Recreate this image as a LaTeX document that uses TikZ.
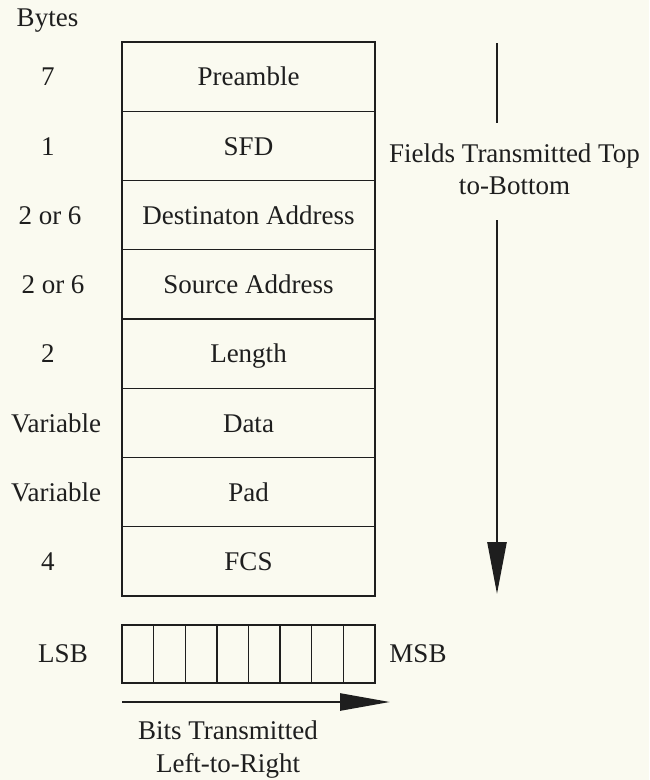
\documentclass[tikz,border=0pt]{standalone}
\usepackage{fontspec}
\setmainfont{Liberation Serif}
\usetikzlibrary{arrows.meta}
\definecolor{paper}{HTML}{FAFAF0}
\definecolor{ink}{HTML}{1E1E1E}
\begin{document}
\begin{tikzpicture}[x=1pt,y=-1pt,
  txt/.style={inner sep=0pt,text=ink,font=\fontsize{27}{32}\selectfont},
  lbl/.style={txt,text height=18.5pt,text depth=0pt},
  field/.style={draw=ink,line width=1.3pt,minimum width=253pt,minimum height=69.25pt,
    inner sep=0pt,outer sep=0pt,text=ink,text height=18.5pt,text depth=0pt,
    font=\fontsize{27}{31}\selectfont},
  bitcell/.style={draw=ink,line width=1.3pt,minimum width=31.625pt,minimum height=58pt,
    inner sep=0pt,outer sep=0pt},
  flow/.style={draw=ink,line width=2.6pt}]
\fill[paper] (0,0) rectangle (649,780);
\useasboundingbox (0,0) rectangle (649,780);

% frame fields, top to bottom
\node[field] (f1) at (248.5,76.6) {Preamble};
\node[field,anchor=north] (f2) at (f1.south) {SFD};
\node[field,anchor=north] (f3) at (f2.south) {Destinaton Address};
\node[field,anchor=north] (f4) at (f3.south) {Source Address};
\node[field,anchor=north] (f5) at (f4.south) {Length};
\node[field,anchor=north] (f6) at (f5.south) {Data};
\node[field,anchor=north] (f7) at (f6.south) {Pad};
\node[field,anchor=north] (f8) at (f7.south) {FCS};

% byte counts
\node[lbl] (hdr) at (47.5,16.8) {Bytes};
\node[lbl] (b1) at (48,76.6) {7};
\node[lbl] (b2) at (48,145.85) {1};
\node[lbl] (b3) at (50,215.1) {2 or 6};
\node[lbl] (b4) at (53,284.35) {2 or 6};
\node[lbl] (b5) at (48,353.6) {2};
\node[lbl] (b6) at (56,422.85) {Variable};
\node[lbl] (b7) at (56,492.1) {Variable};
\node[lbl] (b8) at (48,561.35) {4};

% field order arrow
\coordinate (vtop) at (497,43);
\coordinate (vmid) at (497,123);
\coordinate (vlow) at (497,220);
\coordinate (vend) at (497,594);
\node[txt,align=center] (fieldlbl) at (514.5,169) {Fields Transmitted Top\\to-Bottom};
\draw[flow] (vtop) -- (vmid);
\draw[flow,-{Triangle[length=52pt,width=19pt]}] (vlow) -- (vend);

% one octet, bit by bit
\node[bitcell] (c1) at (137.8,654) {};
\foreach \i [evaluate=\i as \j using int(\i-1)] in {2,...,8}
  \node[bitcell,anchor=west] (c\i) at (c\j.east) {};
\node[lbl] (lsb) at (63,653) {LSB};
\node[lbl] (msb) at (418,653) {MSB};

% bit order arrow
\coordinate (hstart) at (122,702);
\coordinate (hend) at (390,702);
\draw[flow,-{Triangle[length=50pt,width=17pt]}] (hstart) -- (hend);
\node[txt,align=center,font=\fontsize{27}{33}\selectfont] (bitlbl) at (228,750) {Bits Transmitted\\Left-to-Right};
\end{tikzpicture}
\end{document}
